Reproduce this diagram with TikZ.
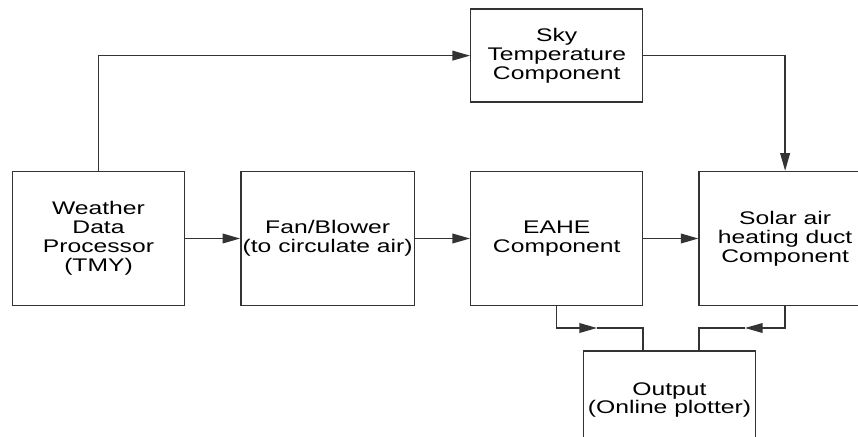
\documentclass[tikz,border=0pt]{standalone}
\usepackage{fontspec}
\setmainfont[FakeStretch=1.35]{Liberation Sans}
\usetikzlibrary{positioning,arrows.meta}

\begin{document}
\begin{tikzpicture}[x=0.02cm,y=-0.02cm,
  blk/.style={rectangle,draw=black!80,line width=0.8pt,align=center,inner xsep=1pt,minimum width=3.44cm,minimum height=2.68cm,font=\fontsize{10.4}{10.8}\selectfont},
  arr/.style={-{Triangle[length=10pt,width=5.5pt]},line width=0.8pt,draw=black!80},
  ln/.style={line width=0.8pt,draw=black!80}
]
\useasboundingbox (0,0) rectangle (858,436);
\clip (0,0) rectangle (858,436);
\node[blk] (weather) at (98.5,238.5) {Weather\\Data\\Processor\\(TMY)};
\node[blk,right=1.1cm of weather] (fan) {Fan/Blower\\(to circulate air)};
\node[blk,right=1.1cm of fan] (eahe) {EAHE\\Component};
\node[blk,right=1.1cm of eahe] (solar) {Solar air\\heating duct\\Component};
\node[blk,minimum height=1.86cm,above=1.36cm of eahe] (sky) {Sky\\Temperature\\Component};
\node[blk,minimum height=1.96cm] (out) at (669.5,400) {Output\\(Online plotter)};
\coordinate (eahetip) at (597,328);
\coordinate (solartip) at (745,328);
\draw[arr] (weather) -- (fan);
\draw[arr] (fan) -- (eahe);
\draw[arr] (eahe) -- (solar);
\draw[arr] (weather.north) |- (sky.west);
\draw[arr] (sky.east) -| (solar.north);
\draw[arr] (eahe.south) |- (eahetip);
\draw[ln] (eahetip) -| ([xshift=1.2cm]out.north west);
\draw[arr] (solar.south) |- (solartip);
\draw[ln] (solartip) -| ([xshift=2.32cm]out.north west);
\end{tikzpicture}
\end{document}
